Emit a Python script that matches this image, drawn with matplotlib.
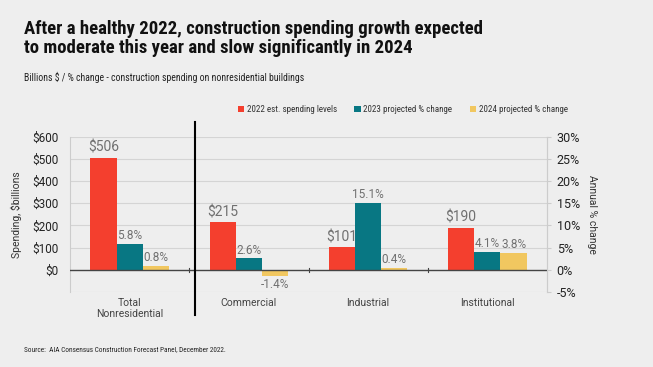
import matplotlib
matplotlib.use("Agg")
import matplotlib.pyplot as plt
from matplotlib import font_manager
import numpy as np

categories = ["Total\nNonresidential", "Commercial", "Industrial", "Institutional"]
spending_2022 = [506, 215, 101, 190]
change_2023 = [5.8, 2.6, 15.1, 4.1]
change_2024 = [0.8, -1.4, 0.4, 3.8]
series_names = ["2022 est. spending levels", "2023 projected % change", "2024 projected % change"]
left_ticks = [0, 100, 200, 300, 400, 500, 600]
right_ticks = [-5, 0, 5, 10, 15, 20, 25, 30]

def pick(cands):
    for c in cands:
        try:
            font_manager.findfont(font_manager.FontProperties(family=c), fallback_to_default=False)
            return c
        except Exception:
            pass
    return "DejaVu Sans"

narrow = pick(["Roboto Condensed", "Liberation Sans Narrow", "Roboto"])
regular = pick(["Roboto", "Lato", "DejaVu Sans"])
plt.rcParams['font.family'] = [regular, "DejaVu Sans"]
NF = [narrow, "DejaVu Sans"]

RED = "#F43F2E"
TEAL = "#087783"
YEL = "#F1C760"
BG = "#EEEEEE"
GRAY = "#707070"

fig = plt.figure(figsize=(6.53, 3.67), dpi=100, facecolor=BG)
ax = fig.add_axes([70/653, 1-292/367, 477/653, (292-136.7)/367])
ax.set_facecolor(BG)

x = np.arange(len(categories))
w = 0.22
scale = 20.0  # $ per % point (600 <-> 30%)
b1 = ax.bar(x - w, spending_2022, w, color=RED, zorder=3)
b2 = ax.bar(x, [v*scale for v in change_2023], w, color=TEAL, zorder=3)
b3 = ax.bar(x + w, [v*scale for v in change_2024], w, color=YEL, zorder=3)

ax.set_xlim(-0.5, 3.5)
ax.set_ylim(-100, 600)
ax.set_yticks(left_ticks)
ax.set_yticklabels([f"${t}" for t in left_ticks], fontsize=8.5, color="#222222")
ax.tick_params(axis='y', which='both', length=0, pad=8)
for yv in range(-100, 601, 100):
    if yv != 0:
        ax.axhline(yv, color="#D4D4D4", lw=0.8, zorder=1)
ax.axhline(0, color="#444444", lw=1.0, zorder=4)
for s in ["top", "bottom"]:
    ax.spines[s].set_visible(False)
for s in ["left", "right"]:
    ax.spines[s].set_color("#CCCCCC")
    ax.spines[s].set_linewidth(0.8)

ax.set_xticks(x)
ax.set_xticklabels(categories, fontsize=7.5, color="#444444")
ax.tick_params(axis='x', length=0, pad=4)
for bx in [0.5, 1.5, 2.5]:
    ax.plot([bx, bx], [-8, 8], color="#444444", lw=0.8, zorder=4, clip_on=False)

ax.set_ylabel("Spending, $billions", fontsize=7.5, color="#333333", labelpad=8)

ax2 = ax.twinx()
ax2.set_ylim(-5, 30)
ax2.set_yticks(right_ticks)
ax2.set_yticklabels([f"{t}%" for t in right_ticks], fontsize=9, color="#222222")
ax2.tick_params(axis='y', length=3, color="#CCCCCC", pad=4)
for s in ["top", "bottom", "left"]:
    ax2.spines[s].set_visible(False)
ax2.spines["right"].set_color("#CCCCCC")
ax2.set_ylabel("Annual % change", fontsize=7.5, color="#333333", rotation=270, labelpad=12)

# data labels
for xi, v in zip(x, spending_2022):
    ax.text(xi - w, v + 14, f"${v}", ha="center", va="bottom", fontsize=10, color=GRAY, zorder=5)
for xi, v in zip(x, change_2023):
    ax.text(xi, v*scale + 8, f"{v}%", ha="center", va="bottom", fontsize=8.5, color=GRAY, zorder=5)
for xi, v in zip(x, change_2024):
    if v >= 0:
        ax.text(xi + w, v*scale + 8, f"{v}%", ha="center", va="bottom", fontsize=8.5, color=GRAY, zorder=5)
    else:
        ax.text(xi + w, v*scale - 8, f"{v}%", ha="center", va="top", fontsize=8.5, color=GRAY, zorder=5)

# divider line
ax.plot([0.55, 0.55], [666, -202], color="black", lw=1.5, clip_on=False, zorder=6)

# legend
handles = [b1, b2, b3]
leg = fig.legend(handles, series_names, loc="center left", bbox_to_anchor=(230/653, 1-110/367),
                 ncol=3, frameon=False, handlelength=0.7, handleheight=0.7,
                 handletextpad=0.3, columnspacing=1.9, labelcolor="#333333",
                 prop={'family': NF, 'size': 6.5})

fig.text(24/653, 1-20/367, "After a healthy 2022, construction spending growth expected\nto moderate this year and slow significantly in 2024",
         ha="left", va="top", fontsize=13.5, fontweight="bold", color="#111111", linespacing=1.1,
         family=NF)
fig.text(24/653, 1-77/367, "Billions $ / % change - construction spending on nonresidential buildings",
         ha="left", va="center", fontsize=7.0, color="#222222", family=NF)
fig.text(24/653, 1-350/367, "Source:  AIA Consensus Construction Forecast Panel, December 2022.",
         ha="left", va="center", fontsize=5.2, color="#222222", family=NF)

fig.savefig("out.png", dpi=100, facecolor=BG)
